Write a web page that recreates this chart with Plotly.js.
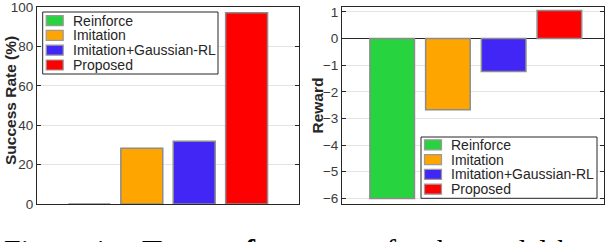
<!DOCTYPE html>
<html>
<head>
<meta charset="utf-8">
<script src="https://cdn.plot.ly/plotly-3.0.1.min.js"></script>
<style>html,body{margin:0;padding:0;background:#fff;}#chart{width:606px;height:242px;}</style>
</head>
<body>
<div id="chart"></div>
<script>
// ---- data ----
const categories = ['Reinforce', 'Imitation', 'Imitation+Gaussian-RL', 'Proposed'];
const successRate = [0, 28.3, 31.8, 97.1];
const reward = [-6.0, -2.67, -1.24, 1.05];
const barColors = ['#27d33f', '#ffa500', '#4226f5', '#ff0000'];
const successTicks = [0, 20, 40, 60, 80, 100];
const rewardTicks = [-6, -5, -4, -3, -2, -1, 0, 1];
const yTitles = ['Success Rate (%)', 'Reward'];
const captionParts = ['Figure 4:', 'Test performance', 'for the model-based'];

// ---- layout helpers (pixel -> paper) ----
const W = 606, H = 242;
const M = {l: 0, r: 0, t: 7, b: 38};
const PW = W - M.l - M.r, PH = H - M.t - M.b;
const px = x => (x - M.l) / PW;
const py = y => (H - M.b - y) / PH;

const axisColor = '#262626';
const fontFam = 'Liberation Sans, Arial, Helvetica, sans-serif';

const traces = [
  {type: 'bar', x: categories, y: successRate, xaxis: 'x', yaxis: 'y', width: 0.8,
   marker: {color: barColors, line: {color: '#8c8c8c', width: 1.5}}, hoverinfo: 'x+y'},
  {type: 'bar', x: categories, y: reward, xaxis: 'x2', yaxis: 'y2', width: 0.8,
   marker: {color: barColors, line: {color: '#8c8c8c', width: 1.5}}, hoverinfo: 'x+y'}
];

function xAx(domain, range, anchor) {
  return {domain: domain, range: range, type: 'category', anchor: anchor,
    showticklabels: false, ticks: '', showgrid: false, zeroline: false,
    showline: true, mirror: true, linecolor: axisColor, linewidth: 1, fixedrange: true};
}
function yAx(range, tickvals, anchor, zl) {
  return {domain: [0, 1], range: range, anchor: anchor, tickvals: tickvals,
    ticks: 'inside', ticklen: 4, tickcolor: axisColor, tickwidth: 1,
    showline: true, mirror: 'ticks', linecolor: axisColor, linewidth: 1,
    showgrid: true, gridcolor: '#e4e4e4', gridwidth: 1,
    zeroline: zl, zerolinecolor: axisColor, zerolinewidth: 1,
    ticklabeloverflow: 'allow',
    tickfont: {size: 13.5, color: '#3a3a3a', family: fontFam},
    fixedrange: true};
}

const shapes = [];
const annotations = [];

// y-axis titles
const titleX = [10, 317];
yTitles.forEach((t, i) => {
  annotations.push({xref: 'paper', yref: 'paper', x: px(titleX[i]), y: py(i === 0 ? 101 : 105.5),
    xanchor: 'center', yanchor: 'middle', textangle: -90, showarrow: false,
    text: '<b>' + t + '</b>', font: {size: 15.5, color: axisColor, family: fontFam}});
});

function legend(box, rowY0) {
  shapes.push({type: 'rect', xref: 'paper', yref: 'paper',
    x0: px(box[0]), x1: px(box[2]), y0: py(box[1]), y1: py(box[3]),
    line: {color: axisColor, width: 1}, fillcolor: '#ffffff', layer: 'above'});
  categories.forEach((c, i) => {
    const cy = rowY0 + i * 14.8;
    shapes.push({type: 'rect', xref: 'paper', yref: 'paper',
      x0: px(box[0] + 3.5), x1: px(box[0] + 20.5), y0: py(cy - 5), y1: py(cy + 5),
      line: {color: '#9a9a9a', width: 1.2}, fillcolor: barColors[i], layer: 'above'});
    annotations.push({xref: 'paper', yref: 'paper', x: px(box[0] + 28), y: py(cy),
      xanchor: 'left', yanchor: 'middle', showarrow: false, text: c,
      font: {size: 14, color: axisColor, family: fontFam}});
  });
}
legend([42.7, 12, 218, 74], 20.6);
legend([421, 137, 597, 198.3], 144.8);

// caption (cut off at the bottom of the picture, as in the reference)
const capX = [2, 140, 384];
captionParts.forEach((t, i) => {
  annotations.push({xref: 'paper', yref: 'paper', x: px(capX[i]), y: py(230.8),
    xanchor: 'left', yanchor: 'top', showarrow: false,
    text: i === 1 ? '<b>' + t + '</b>' : t,
    font: {size: 30, color: '#000', family: 'Liberation Serif, Times New Roman, serif'}});
});

const layout = {
  width: W, height: H, margin: {l: M.l, r: M.r, t: M.t, b: M.b, pad: 0},
  paper_bgcolor: '#ffffff', plot_bgcolor: '#ffffff', showlegend: false,
  font: {family: fontFam, size: 13.5, color: axisColor},
  bargap: 0.2,
  xaxis: xAx([37 / W, 299 / W], [-1, 4], 'y'),
  yaxis: yAx([0, 100], successTicks, 'x', false),
  xaxis2: xAx([342 / W, 604 / W], [-0.9, 3.8], 'y2'),
  yaxis2: yAx([-6.21, 1.18], rewardTicks, 'x2', true),
  shapes: shapes, annotations: annotations
};

Plotly.newPlot('chart', traces, layout, {displayModeBar: false, staticPlot: true});
</script>
</body>
</html>
